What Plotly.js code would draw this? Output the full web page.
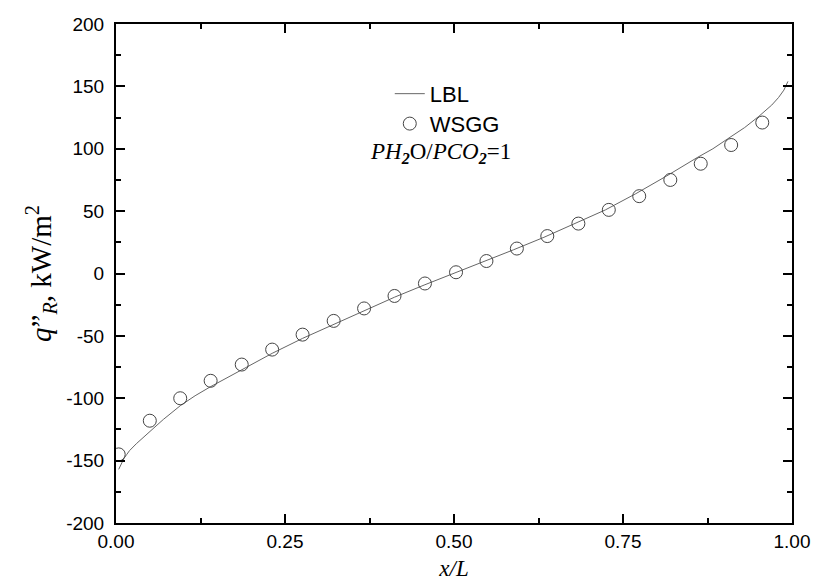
<!DOCTYPE html>
<html>
<head>
<meta charset="utf-8">
<script src="https://cdn.plot.ly/plotly-3.0.1.min.js"></script>
<style>html,body{margin:0;padding:0;background:#fff;}#chart{width:813px;height:581px;}</style>
</head>
<body>
<div id="chart"></div>
<script>
// LBL solution
var lblX = [0.004, 0.008, 0.012, 0.016, 0.020, 0.030, 0.040, 0.049, 0.070, 0.095, 0.117, 0.139, 0.186, 0.231, 0.276, 0.322, 0.367, 0.412, 0.457, 0.500, 0.543, 0.588, 0.633, 0.678, 0.724, 0.769, 0.814, 0.860, 0.883, 0.905, 0.930, 0.951, 0.960, 0.970, 0.980, 0.988, 0.994];
var lblY = [-157, -152, -148, -145, -142, -136.5, -131.5, -127, -117, -106, -98, -91, -77, -64, -52, -41, -30, -19, -9, 0, 9, 19, 29, 40, 51, 64, 78, 93, 100, 108, 117, 126, 130, 135, 141, 147, 154];
// WSGG model
var wsggX = [0.004, 0.050, 0.095, 0.140, 0.186, 0.231, 0.276, 0.322, 0.367, 0.412, 0.457, 0.503, 0.548, 0.593, 0.638, 0.684, 0.729, 0.774, 0.820, 0.865, 0.910, 0.956];
var wsggY = [-145, -118, -100, -86, -73, -61, -49, -38, -28, -18, -8, 1, 10, 20, 30, 40, 51, 62, 75, 88, 103, 121];
var xTicks = [0, 0.25, 0.5, 0.75, 1.0];
var xTickText = ['0.00', '0.25', '0.50', '0.75', '1.00'];
var yTicks = [-200, -150, -100, -50, 0, 50, 100, 150, 200];
var yTickText = ['-200', '-150', '-100', '-50', '0', '50', '100', '150', '200'];

var traces = [
  {x: lblX, y: lblY, mode: 'lines', name: 'LBL', legend: 'legend', line: {color: '#666', width: 1}},
  {x: wsggX, y: wsggY, mode: 'markers', name: 'WSGG', legend: 'legend2', marker: {symbol: 'circle-open', size: 13, color: '#444', line: {width: 1, color: '#444'}}}
];

var axCommon = {
  showgrid: false, zeroline: false, showline: true, linecolor: '#000', linewidth: 2,
  ticks: 'inside', ticklen: 9, tickwidth: 2, tickcolor: '#000', mirror: 'allticks',
  tickfont: {family: 'Liberation Sans, Arial', size: 19, color: '#000'}
};
var legFont = {family: 'Liberation Sans, Arial', size: 22, color: '#000'};

var layout = {
  width: 813, height: 581,
  margin: {l: 116, r: 21, t: 24, b: 58},
  paper_bgcolor: '#fff', plot_bgcolor: '#fff',
  showlegend: true,
  legend: {x: 0.405, y: 0.86, xanchor: 'left', yanchor: 'middle', bgcolor: 'rgba(0,0,0,0)', font: legFont},
  legend2: {x: 0.405, y: 0.80, xanchor: 'left', yanchor: 'middle', bgcolor: 'rgba(0,0,0,0)', font: legFont},
  xaxis: Object.assign({}, axCommon, {
    range: [0, 1], tickvals: xTicks, ticktext: xTickText,
    minor: {ticks: 'inside', ticklen: 5, tickwidth: 2, tickcolor: '#000', dtick: 0.125, tick0: 0},
    title: {text: '<i>x/L</i>', font: {family: 'Liberation Serif, Times New Roman', size: 23, color: '#000'}, standoff: 9}
  }),
  yaxis: Object.assign({}, axCommon, {
    range: [-200, 200], tickvals: yTicks, ticktext: yTickText,
    minor: {ticks: 'inside', ticklen: 5, tickwidth: 2, tickcolor: '#000', dtick: 25, tick0: 0},
    ticklabelstandoff: 6,
    title: {text: '<i>q</i>”<sub><i>R</i></sub>, kW/m<sup>2</sup>', font: {family: 'Liberation Serif, Times New Roman', size: 29, color: '#000'}, standoff: 6}
  }),
  annotations: [
    {xref: 'paper', yref: 'paper', x: 0.48, y: 0.742, xanchor: 'center', yanchor: 'middle', showarrow: false,
     text: '<i>PH</i><sub><b><i>2</i></b></sub>O/<i>PCO</i><sub><b><i>2</i></b></sub>=1',
     font: {family: 'Liberation Serif, Times New Roman', size: 23, color: '#000'}}
  ]
};

Plotly.newPlot('chart', traces, layout, {displayModeBar: false, staticPlot: true});
</script>
</body>
</html>
